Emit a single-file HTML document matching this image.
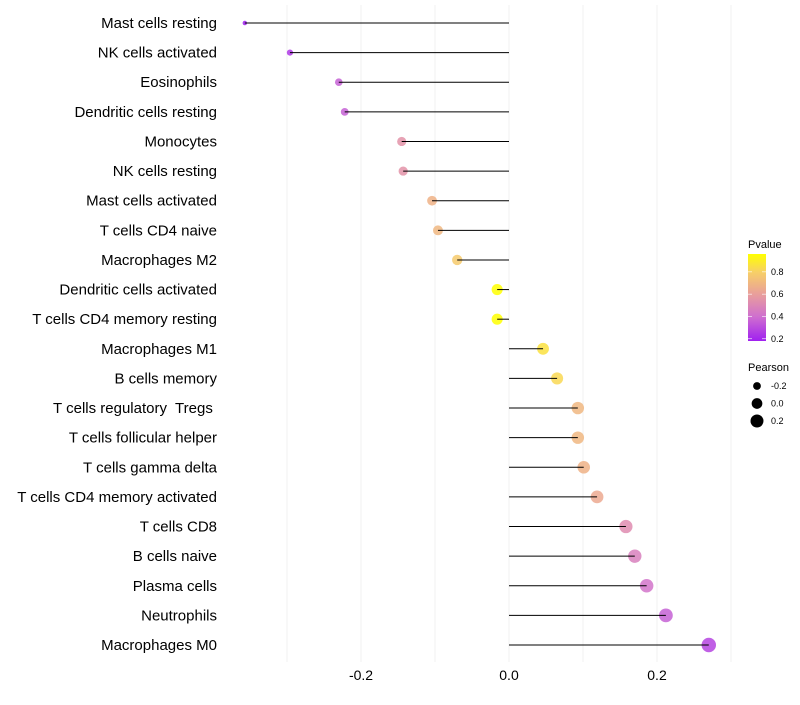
<!DOCTYPE html>
<html><head><meta charset="utf-8"><style>
body{margin:0;background:#fff;font-family:"Liberation Sans",sans-serif}
</style></head><body>
<svg id="chart" width="800" height="700" xmlns="http://www.w3.org/2000/svg" font-family="Liberation Sans, sans-serif">
<defs><linearGradient id="pg" x1="0" y1="1" x2="0" y2="0">
<stop offset="0" stop-color="#a020f0"/><stop offset="0.28" stop-color="#cf6fcf"/><stop offset="0.54" stop-color="#e99f9b"/><stop offset="0.79" stop-color="#f7cf67"/><stop offset="1" stop-color="#ffff00"/></linearGradient></defs>
<g id="grid"></g>
<g id="dots"></g>
<g id="marks"></g>
<g id="labels"></g>
<g id="xticks"></g>
<g>
<text x="748" y="248" font-size="11" fill="#000">Pvalue</text>
<rect x="748" y="254" width="18" height="87" fill="url(#pg)"/>
<g id="cbticks"></g>
</g>
<g>
<text x="748" y="371" font-size="11" fill="#000">Pearson</text>
<g id="sizeleg"></g>
</g>
</svg>
<script>
const categories=["Mast cells resting","NK cells activated","Eosinophils","Dendritic cells resting","Monocytes","NK cells resting","Mast cells activated","T cells CD4 naive","Macrophages M2","Dendritic cells activated","T cells CD4 memory resting","Macrophages M1","B cells memory","T cells regulatory  Tregs ","T cells follicular helper","T cells gamma delta","T cells CD4 memory activated","T cells CD8","B cells naive","Plasma cells","Neutrophils","Macrophages M0"];
const pearson=[-0.357,-0.296,-0.230,-0.222,-0.145,-0.143,-0.104,-0.096,-0.070,-0.016,-0.016,0.046,0.065,0.093,0.093,0.101,0.119,0.158,0.170,0.186,0.212,0.270];
const pvalue=[0.17,0.25,0.36,0.36,0.55,0.55,0.68,0.7,0.78,0.96,0.96,0.86,0.83,0.7,0.7,0.68,0.64,0.52,0.47,0.42,0.36,0.28];
const xTicks=[-0.2,0.0,0.2];
const xGrid=[-0.3,-0.2,-0.1,0,0.1,0.2,0.3];
const pTicks=[0.2,0.4,0.6,0.8];
const sizeTicks=[-0.2,0.0,0.2];
const NS="http://www.w3.org/2000/svg";
const x=v=>509+v*740;
const y=i=>23+i*(645-23)/(categories.length-1);
const r=v=>Math.sqrt(Math.max(2,5+75*(v+0.357)));
const stops=[[0.18,[160,32,240]],[0.4,[207,111,207]],[0.6,[233,159,155]],[0.8,[247,207,103]],[0.96,[255,255,0]]];
function col(p){if(p<=stops[0][0])return"rgb("+stops[0][1]+")";for(let i=1;i<stops.length;i++){if(p<=stops[i][0]){const t=(p-stops[i-1][0])/(stops[i][0]-stops[i-1][0]);const a=stops[i-1][1],b=stops[i][1];return"rgb("+a.map((c,k)=>Math.round(c+(b[k]-c)*t)).join(",")+")";}}return"rgb(255,255,0)";}
function mk(t,a,p){const e=document.createElementNS(NS,t);for(const k in a)e.setAttribute(k,a[k]);p.appendChild(e);return e;}
const G=document.getElementById('grid'),M=document.getElementById('marks'),D=document.getElementById('dots'),L=document.getElementById('labels'),XT=document.getElementById('xticks');
xGrid.forEach(v=>{const e=mk('line',{x1:x(v),x2:x(v),y1:5,y2:662,stroke:'#f0f0f0','stroke-width':1},G);

});
categories.forEach((c,i)=>{
const d=mk('circle',{cx:x(pearson[i]),cy:y(i),r:r(pearson[i]),fill:col(pvalue[i]),'fill-opacity':0.85},D);


const s=mk('line',{x1:x(0),x2:x(pearson[i]),y1:y(i),y2:y(i),stroke:'#000','stroke-width':1},M);


const t=mk('text',{x:217,y:y(i)+5,'text-anchor':'end','font-size':15,fill:'#000'},L);t.textContent=c;
t.style.whiteSpace='pre';

});
xTicks.forEach(v=>{const t=mk('text',{x:x(v),y:680,'text-anchor':'middle','font-size':14,fill:'#000'},XT);t.textContent=v.toFixed(1);

});
const CB=document.getElementById('cbticks');
pTicks.forEach(p=>{const yy=341-(p-0.18)/(0.96-0.18)*87;
mk('line',{x1:748,x2:752,y1:yy,y2:yy,stroke:'#fff','stroke-width':0.6},CB);mk('line',{x1:762,x2:766,y1:yy,y2:yy,stroke:'#fff','stroke-width':0.6},CB);
const t=mk('text',{x:771,y:yy+3,'font-size':9,fill:'#000'},CB);t.textContent=p.toFixed(1);

});
const SL=document.getElementById('sizeleg');
sizeTicks.forEach((v,i)=>{const yy=386+i*17.5;const c=mk('circle',{cx:757,cy:yy,r:r(v)*0.95,fill:'#000'},SL);


const t=mk('text',{x:771,y:yy+3,'font-size':9,fill:'#000'},SL);t.textContent=v.toFixed(1);

});
</script>
</body></html>
